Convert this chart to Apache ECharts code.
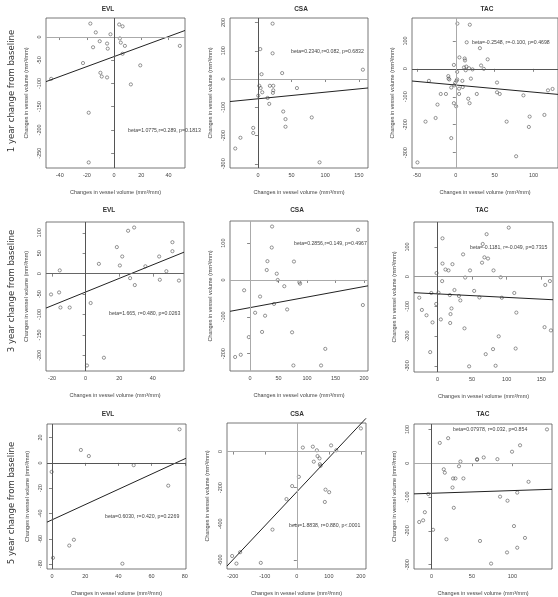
<!DOCTYPE html>
<html>
<head>
<meta charset="utf-8">
<script src="https://cdn.jsdelivr.net/npm/echarts@6/dist/echarts.min.js"></script>
<style>
html, body { margin: 0; padding: 0; background: #fff; }
#chart { width: 558px; height: 597px; }
</style>
</head>
<body>
<div id="chart"></div>
<script>
// points, [x, y]
var evl1 = [[-17.5,29],[3.7,27],[6.2,23],[-13.5,10],[-2.7,6],[4.2,-3],[-10.6,-9],[-5.2,-14],[4.9,-12],[7.9,-19],
	[-15.5,-22],[-4.7,-25],[6.2,-36],[48.3,-19],[-22.9,-56],[19.2,-61],[-10.1,-77],[-9.1,-85],[-5.2,-87],[-46.3,-90],
	[12.3,-102],[-18.7,-163],[-18.7,-270]];
var csa1 = [[21.8,196],[3.5,106],[21.8,91],[5.4,17],[36,21],[156,33],[2,-24],[4,-32],[6.4,-47],[17.8,-24],
	[22.8,-24],[22.8,-40],[22.3,-49],[58,-32],[0.5,-59],[14.4,-67],[16.8,-88],[37.6,-115],[41,-142],[41,-169],
	[80,-136],[-7,-173],[-7,-191],[-26,-208],[-33.7,-246],[91.6,-295]];
var tac1 = [[2,162],[18,158],[14,95],[31,74],[4.6,41],[11.4,37],[11.8,30],[41,34],[32.5,12],[-2.5,14],
	[10.5,5],[13.5,8],[17,2],[21.5,-2],[36,0],[12.7,-5],[1.7,-11],[19.4,-35],[-9.7,-26],[-9.3,-35],
	[-8.4,-38],[1.7,-38],[0.8,-43],[-0.8,-50],[8.4,-43],[-34.6,-43],[-2,-59],[8.9,-65],[-5.9,-67],[4.2,-71],
	[53,-49],[53,-84],[56.5,-90],[-19.4,-90],[-12.7,-90],[4.2,-90],[27,-90],[16,-107],[17.7,-123],[-23.6,-128],
	[-2.5,-123],[0.4,-134],[87,-95],[118.6,-77],[124.5,-72],[-26,-176],[-39,-189],[65.4,-189],[114,-165],[95,-171],
	[94,-208],[-5.9,-248],[77.6,-313],[-49.4,-335]];
var evl3 = [[25.3,105],[28.9,113],[51.7,77],[18.6,65],[21.8,42],[43.8,42],[51.7,55],[7.9,24],[20.4,20],[35.6,18],
	[-15.4,8],[48.1,6],[26.5,-11],[44.2,-15],[55.6,-17],[29.3,-28],[-20.6,-51],[-15.8,-46],[-15,-83],[-9.5,-83],
	[3,-72],[10.9,-206],[0.8,-225]];
var csa3 = [[38.6,145],[189.5,136],[38,88],[30.4,51],[77,50],[29.2,27],[46.8,17],[48.5,0],[60,-17],[86.5,-6],
	[87.7,-10],[-10.5,-28],[17.5,-45],[42,-65],[65,-80],[198,-68],[8.8,-89],[26.3,-97],[21,-141],[73.7,-142],
	[-2.3,-155],[132,-187],[-16.4,-203],[-26.3,-209],[76,-232],[124.6,-232]];
var tac3 = [[103,165],[71,143],[7.2,129],[65.4,110],[37,75],[67.8,65],[73,61],[64.4,47],[7.2,44],[21.6,42],
	[11.5,24],[15.9,21],[47,21],[81,21],[-1.4,12],[40,-3],[91.3,-2],[6.7,-15],[162.5,-15],[155.8,-28],
	[24.5,-45],[53,-48],[-9,-55],[1.4,-54],[111,-55],[17.8,-62],[31,-65],[33,-80],[60.6,-70],[93,-71],
	[-26.4,-71],[-1.9,-92],[-22.6,-112],[-15.9,-130],[20.2,-107],[18.8,-126],[4.8,-144],[114,-121],[-7.2,-154],[18.3,-156],
	[39,-174],[154.8,-170],[164,-181],[88.5,-201],[-10.6,-254],[80.3,-244],[113,-242],[69.7,-261],[45.7,-302],[84,-300]];
var evl5 = [[76.8,26.5],[17.4,10.2],[22.2,5.4],[49.2,-1.8],[-0.2,-7.1],[70,-18],[13.2,-60.7],[10.4,-65.3],[0.6,-75],[42.4,-79.6]];
var csa5 = [[200,128],[107,34],[18.8,22],[50,27],[62.5,7],[123,7],[64.6,-25],[70.8,-38],[53,-56],[72,-70],
	[74,-79],[6.3,-140],[-14.6,-191],[-32.3,-263],[89.6,-211],[101,-225],[87.5,-279],[-76,-432],[-177,-557],[-202,-578],
	[-188.5,-620],[-112.5,-616]];
var tac5 = [[142.8,100],[10.3,60],[20.6,74],[109.5,53],[99.6,34],[64.6,17],[56.4,12],[56.4,10],[81.5,12],[35.8,5],
	[34,-9],[15.2,-18],[16.5,-28],[26.7,-45],[29.6,-45],[39.5,-45],[120,-55],[26,-72],[106,-87],[-4,-91],
	[84.8,-99],[94,-111],[27.6,-132],[-8.2,-145],[-10.3,-169],[-15.2,-174],[2,-197],[102,-186],[18.5,-225],[60,-230],
	[115.6,-221],[106,-250],[93.4,-264],[73.7,-297]];

var panels = [evl1, csa1, tac1, evl3, csa3, tac3, evl5, csa5, tac5];
var titles = ['EVL', 'CSA', 'TAC', 'EVL', 'CSA', 'TAC', 'EVL', 'CSA', 'TAC'];
var rowLabels = ['1 year change from baseline', '3 year change from baseline', '5 year change from baseline'];

// fitted lines: y = intercept + beta * x
var betas = [1.0775, 0.2340, -0.2548, 1.665, 0.2856, -0.1181, 0.6030, 1.8838, 0.07978];
var intercepts = [-42, -70, -58, -45, -75, -58, -45, -223, -89];
var statTexts = [
	'beta=1.0775,r=0.289, p=0.1813',
	'beta=0.2340,r=0.082, p=0.6832',
	'beta=-0.2548, r=-0.100, p=0.4698',
	'beta=1.665, r=0.480, p=0.0263',
	'beta=0.2856,r=0.149, p=0.4967',
	'beta=-0.1181, r=-0.049, p=0.7315',
	'beta=0.6030, r=0.420, p=0.2269',
	'beta=1.8838, r=0.880, p<.0001',
	'beta=0.07978, r=0.032, p=0.854'
];

var xTicks = [[-40,-20,0,20,40],[0,50,100,150],[-50,0,50,100],[-20,0,20,40],[0,50,100,150,200],
	[0,50,100,150],[0,20,40,60,80],[-200,-100,0,100,200],[0,50,100]];
var yTicks = [[-250,-200,-150,-100,-50,0],[-300,-200,-100,0,100,200],[-300,-200,-100,0,100],
	[-200,-150,-100,-50,0,50,100],[-200,-100,0,100],[-300,-200,-100,0,100],
	[-80,-60,-40,-20,0,20],[-600,-400,-200,0],[-300,-200,-100,0,100]];
var xRanges = [[-50.1,52.1],[-41.5,163.6],[-56.4,131.5],[-23.6,58.6],[-35.3,207],[-34,167],[-3,80.7],[-218,216],[-21.6,149]];
var yRanges = [[-282,41],[-315,216],[-355,182],[-238.5,126.5],[-247,160],[-321,184],[-83.8,30.7],[-650,158],[-313,116]];

// layout (left, top, width, height) of every plot box
var boxes = [[46,18,139,150],[230,18,138,150],[412,18,148,150],
	[46,222,138,149],[230,221,138,150],[414,222,139,150],
	[47,424,139,150],[227,423,139,149],[414,424,138,150]];
var titlePos = [[108,9],[301,9],[487,9],[109,210],[297,210],[482,210],[108,414],[297,414],[483,414]];
var statPos = [[128,131],[291,52],[472,43],[109,314],[294,244],[470,248],[105,517],[289,526],[453,430]];
var rowPos = [[12,91],[12,291],[12,503]];
// zero reference lines: horizontal / vertical colours
var hColors = ['#aaa','#aaa','#555','#666','#aaa','#999','#555','#aaa','#aaa'];
var vColors = ['#555','#555','#aaa','#555','#aaa','#555','#555','#aaa','#555'];

var axisFont = 'Liberation Sans, Arial, sans-serif';
var axisName = 'Changes in vessel volume (mm\u00b3/mm)';

var chart = echarts.init(document.getElementById('chart'), null, { renderer: 'canvas' });

var grids = [], xAxes = [], yAxes = [], series = [], graphics = [];
for (var i = 0; i < panels.length; i++) {
	var b = boxes[i];
	grids.push({
		left: b[0], top: b[1], width: b[2], height: b[3],
		show: true, borderColor: '#555', borderWidth: 0.8, backgroundColor: 'transparent'
	});
	xAxes.push({
		gridIndex: i, type: 'value', min: xRanges[i][0], max: xRanges[i][1],
		axisLine: { show: false }, splitLine: { show: false },
		axisTick: { show: true, length: 3, customValues: xTicks[i], lineStyle: { color: '#555', width: 0.7 } },
		axisLabel: { customValues: xTicks[i], fontSize: 5.5, color: '#444', margin: 4, fontFamily: axisFont },
		name: axisName, nameLocation: 'middle', nameGap: 21,
		nameTextStyle: { fontSize: 5.5, color: '#444', fontFamily: axisFont }
	});
	yAxes.push({
		gridIndex: i, type: 'value', min: yRanges[i][0], max: yRanges[i][1],
		axisLine: { show: false }, splitLine: { show: false },
		axisTick: { show: true, length: 3, customValues: yTicks[i], lineStyle: { color: '#555', width: 0.7 } },
		axisLabel: { customValues: yTicks[i], fontSize: 5.5, color: '#444', margin: 4, rotate: 90, fontFamily: axisFont },
		name: axisName, nameLocation: 'middle', nameGap: 17,
		nameTextStyle: { fontSize: 5.5, color: '#444', fontFamily: axisFont }
	});
	series.push({
		type: 'scatter', xAxisIndex: i, yAxisIndex: i, data: panels[i],
		symbol: 'circle', symbolSize: 3.2,
		itemStyle: { color: 'rgba(255,255,255,0)', borderColor: '#444', borderWidth: 0.7 },
		markLine: {
			silent: true, symbol: 'none', label: { show: false }, animation: false,
			data: [
				{ yAxis: 0, lineStyle: { color: hColors[i], width: 1, type: 'solid' } },
				{ xAxis: 0, lineStyle: { color: vColors[i], width: 1, type: 'solid' } }
			]
		}
	});
	var x0 = xRanges[i][0], x1 = xRanges[i][1];
	series.push({
		type: 'line', xAxisIndex: i, yAxisIndex: i, showSymbol: false, silent: true,
		clip: i !== 7,
		data: [[x0, intercepts[i] + betas[i] * x0], [x1, intercepts[i] + betas[i] * x1]],
		lineStyle: { color: '#222', width: 1 }
	});
	graphics.push({
		type: 'text', x: titlePos[i][0], y: titlePos[i][1],
		style: { text: titles[i], align: 'center', verticalAlign: 'middle', textAlign: 'center', textVerticalAlign: 'middle',
			fontSize: 6.5, fontWeight: 'bold', fontFamily: axisFont, fill: '#333' }
	});
	graphics.push({
		type: 'text', x: statPos[i][0], y: statPos[i][1],
		style: { text: statTexts[i], align: 'left', verticalAlign: 'middle', textAlign: 'left', textVerticalAlign: 'middle',
			fontSize: 5.2, fontFamily: axisFont, fill: '#444' }
	});
}

// row captions on the left side
for (var r = 0; r < rowLabels.length; r++) {
	graphics.push({
		type: 'text', x: rowPos[r][0], y: rowPos[r][1], rotation: Math.PI / 2,
		style: { text: rowLabels[r], align: 'center', verticalAlign: 'middle', textAlign: 'center', textVerticalAlign: 'middle',
			fontSize: 9.5, fontFamily: 'Liberation Sans Narrow, DejaVu Sans Condensed, sans-serif', fill: '#333' }
	});
}

var option = {
	animation: false,
	backgroundColor: '#fff',
	grid: grids,
	xAxis: xAxes,
	yAxis: yAxes,
	series: series,
	graphic: { elements: graphics }
};
chart.setOption(option);
</script>
</body>
</html>
